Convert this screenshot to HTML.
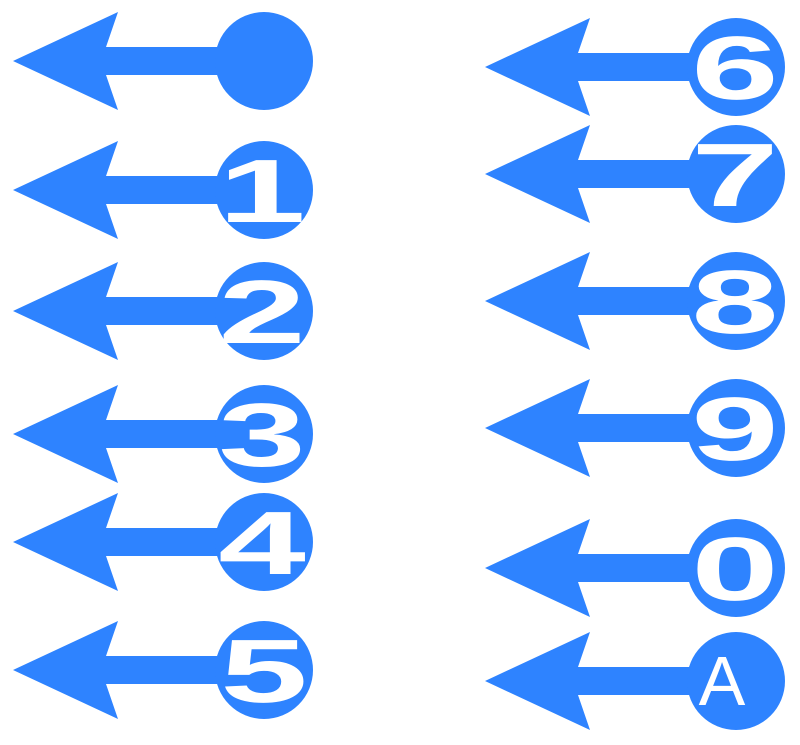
<!DOCTYPE html>
<html><head><meta charset="utf-8"><style>
html,body{margin:0;padding:0;background:#fff;}
svg{display:block}
text{font-family:"Liberation Sans",sans-serif;fill:#fff;}
</style></head><body>
<svg width="800" height="745" viewBox="0 0 800 745" xmlns="http://www.w3.org/2000/svg">
<defs>
<g id="arr">
<path d="M0,0 L105,-49 L93,-14 L220,-14 L220,14 L93,14 L105,49 Z" fill="#2e83ff"/>
<circle cx="251" cy="0" r="49" fill="#2e83ff"/>
</g>
</defs>
<g>
<use href="#arr" x="13" y="61"/>
<use href="#arr" x="13" y="190"/>
<use href="#arr" x="13" y="311"/>
<use href="#arr" x="13" y="434"/>
<use href="#arr" x="13" y="542"/>
<use href="#arr" x="13" y="670"/>
<use href="#arr" x="485" y="67"/>
<use href="#arr" x="485" y="174"/>
<use href="#arr" x="485" y="301"/>
<use href="#arr" x="485" y="428"/>
<use href="#arr" x="485" y="568"/>
<use href="#arr" x="485" y="681"/>
</g>
<g font-weight="bold" font-size="90" text-anchor="middle">
<text transform="translate(262,222) scale(1.75,1)">1</text>
<text transform="translate(262,343) scale(1.75,1)">2</text>
<text transform="translate(262,466) scale(1.75,1)">3</text>
<text transform="translate(262,574) scale(1.75,1)">4</text>
<text transform="translate(264,702) scale(1.75,1)">5</text>
<text transform="translate(735,99) scale(1.75,1)">6</text>
<text transform="translate(735,206) scale(1.75,1)">7</text>
<text transform="translate(735,333) scale(1.75,1)">8</text>
<text transform="translate(735,460) scale(1.75,1)">9</text>
<text transform="translate(735,600) scale(1.75,1)">0</text>
</g>
<text x="722" y="705" font-size="70" text-anchor="middle">A</text>
</svg>
</body></html>
